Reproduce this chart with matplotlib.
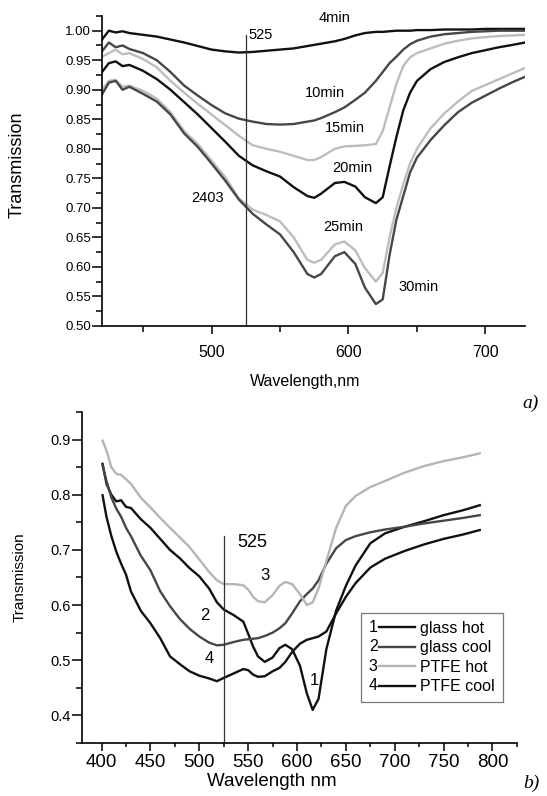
import numpy as np
import matplotlib
matplotlib.use("Agg")
import matplotlib.pyplot as plt
from matplotlib.ticker import MultipleLocator, FormatStrFormatter
from matplotlib.legend_handler import HandlerBase
from matplotlib.lines import Line2D
from matplotlib.text import Text

plt.rcParams["font.family"] = ["Liberation Sans", "DejaVu Sans"]

# ---- panel a) : transmission vs time ----
wl_top = [420, 425, 430, 435, 440, 450, 460, 470, 480, 490, 500, 510, 520, 530,
          540, 550, 560, 570, 575, 580, 590, 597, 605, 612, 620, 625, 630, 635,
          640, 645, 650, 660, 670, 680, 690, 700, 710, 720, 729]
t_4min = [0.985, 1.000, 0.997, 0.999, 0.996, 0.993, 0.990, 0.985, 0.980, 0.974,
          0.968, 0.965, 0.963, 0.964, 0.966, 0.968, 0.970, 0.974, 0.976, 0.978,
          0.982, 0.986, 0.992, 0.996, 0.998, 0.998, 0.999, 1.000, 1.000, 1.000,
          1.001, 1.001, 1.002, 1.002, 1.002, 1.003, 1.003, 1.003, 1.003]
t_10min = [0.965, 0.980, 0.972, 0.975, 0.969, 0.962, 0.950, 0.930, 0.907, 0.890,
           0.874, 0.860, 0.851, 0.846, 0.842, 0.841, 0.842, 0.846, 0.848, 0.852,
           0.862, 0.870, 0.883, 0.895, 0.915, 0.930, 0.945, 0.956, 0.968, 0.977,
           0.983, 0.990, 0.994, 0.996, 0.998, 0.999, 1.000, 1.000, 1.000]
t_15min = [0.956, 0.962, 0.968, 0.960, 0.962, 0.952, 0.938, 0.915, 0.895, 0.876,
           0.858, 0.840, 0.822, 0.806, 0.800, 0.795, 0.788, 0.781, 0.781, 0.786,
           0.800, 0.804, 0.805, 0.806, 0.808, 0.830, 0.870, 0.910, 0.940, 0.955,
           0.962, 0.970, 0.978, 0.983, 0.987, 0.989, 0.991, 0.992, 0.993]
t_20min = [0.930, 0.945, 0.948, 0.940, 0.942, 0.932, 0.918, 0.900, 0.879, 0.858,
           0.835, 0.812, 0.788, 0.772, 0.762, 0.753, 0.735, 0.720, 0.717, 0.724,
           0.742, 0.744, 0.736, 0.718, 0.708, 0.718, 0.770, 0.820, 0.865, 0.895,
           0.915, 0.935, 0.947, 0.955, 0.962, 0.967, 0.972, 0.976, 0.980]
t_25min = [0.900, 0.915, 0.917, 0.905, 0.907, 0.898, 0.885, 0.862, 0.830, 0.808,
           0.780, 0.752, 0.716, 0.697, 0.688, 0.677, 0.650, 0.612, 0.607, 0.612,
           0.638, 0.643, 0.628, 0.598, 0.575, 0.590, 0.650, 0.700, 0.740, 0.775,
           0.800, 0.835, 0.860, 0.880, 0.898, 0.908, 0.918, 0.928, 0.937]
t_30min = [0.892, 0.912, 0.915, 0.900, 0.905, 0.893, 0.880, 0.858, 0.826, 0.803,
           0.775, 0.746, 0.714, 0.690, 0.672, 0.655, 0.625, 0.588, 0.582, 0.588,
           0.618, 0.625, 0.605, 0.565, 0.537, 0.545, 0.620, 0.680, 0.720, 0.760,
           0.785, 0.815, 0.840, 0.862, 0.878, 0.890, 0.902, 0.913, 0.922]

top_series = [t_4min, t_10min, t_15min, t_20min, t_25min, t_30min]
top_colors = ["#111111", "#474747", "#bdbdbd", "#111111", "#bdbdbd", "#474747"]
top_labels = ["4min", "10min", "15min", "20min", "25min", "30min"]
top_label_pos = [(590, 1.021), (583, 0.895), (597, 0.836), (603, 0.767),
                 (596, 0.668), (651, 0.566)]

# ---- panel b) : substrates ----
wl_bot = [401, 405, 410, 415, 420, 425, 430, 440, 450, 460, 470, 480, 490, 500,
          510, 518, 525, 535, 545, 550, 555, 560, 567, 575, 582, 588, 595, 603,
          610, 616, 622, 630, 640, 650, 660, 675, 690, 710, 730, 750, 770, 787]
t_glass_hot = [0.856, 0.820, 0.800, 0.788, 0.790, 0.778, 0.776, 0.756, 0.740,
               0.720, 0.700, 0.685, 0.667, 0.652, 0.630, 0.605, 0.592, 0.582,
               0.570, 0.548, 0.525, 0.507, 0.497, 0.505, 0.522, 0.528, 0.520,
               0.490, 0.440, 0.410, 0.430, 0.520, 0.590, 0.635, 0.672, 0.712,
               0.730, 0.742, 0.752, 0.763, 0.772, 0.781]
t_glass_cool = [0.853, 0.825, 0.795, 0.775, 0.760, 0.740, 0.725, 0.690, 0.663,
                0.625, 0.598, 0.575, 0.557, 0.543, 0.532, 0.527, 0.528, 0.533,
                0.537, 0.538, 0.539, 0.540, 0.544, 0.550, 0.558, 0.567, 0.585,
                0.607, 0.620, 0.630, 0.645, 0.675, 0.703, 0.718, 0.725, 0.732,
                0.737, 0.742, 0.748, 0.753, 0.758, 0.763]
t_ptfe_hot = [0.898, 0.880, 0.850, 0.838, 0.836, 0.828, 0.820, 0.795, 0.777,
              0.758, 0.740, 0.723, 0.705, 0.683, 0.660, 0.645, 0.638, 0.638,
              0.636, 0.628, 0.615, 0.607, 0.605, 0.618, 0.635, 0.642, 0.638,
              0.620, 0.600, 0.605, 0.630, 0.680, 0.740, 0.780, 0.798, 0.814,
              0.825, 0.840, 0.852, 0.861, 0.868, 0.875]
t_ptfe_cool = [0.799, 0.760, 0.725, 0.697, 0.675, 0.655, 0.625, 0.590, 0.567,
               0.540, 0.507, 0.493, 0.480, 0.472, 0.467, 0.462, 0.468, 0.476,
               0.484, 0.482, 0.474, 0.470, 0.471, 0.480, 0.486, 0.497, 0.515,
               0.530, 0.537, 0.540, 0.543, 0.552, 0.585, 0.615, 0.640, 0.668,
               0.684, 0.698, 0.710, 0.720, 0.728, 0.736]

bot_series = [t_glass_hot, t_glass_cool, t_ptfe_hot, t_ptfe_cool]
bot_colors = ["#111111", "#474747", "#b5b5b5", "#111111"]
bot_names = ["glass hot", "glass cool", "PTFE hot", "PTFE cool"]
bot_numbers = ["1", "2", "3", "4"]
bot_number_pos = [(618, 0.464), (506, 0.582), (567, 0.654), (510, 0.504)]


class NumberedLine(HandlerBase):
    """legend handle drawn as '1----' like the original Origin plot"""

    def __init__(self, num):
        super().__init__()
        self.num = num

    def create_artists(self, legend, orig_handle, xdescent, ydescent,
                       width, height, fontsize, trans):
        x0 = -xdescent
        y = -ydescent + height / 2
        txt = Text(x0, y, self.num, fontsize=fontsize, ha="left", va="center",
                   transform=trans, family=["Liberation Sans", "DejaVu Sans"])
        ln = Line2D([x0 + 0.22 * width, x0 + width], [y, y],
                    color=orig_handle.get_color(), lw=orig_handle.get_linewidth(),
                    transform=trans)
        return [txt, ln]


fig = plt.figure(figsize=(5.47, 7.96), dpi=100)

# ---------- top panel ----------
ax1 = fig.add_axes([0.1865, 0.5905, 0.7735, 0.3895])
for t, c in zip(top_series, top_colors):
    ax1.plot(wl_top, t, color=c, lw=1.7)
for lab, (x, y) in zip(top_labels, top_label_pos):
    ax1.text(x, y, lab, fontsize=10.5, ha="center", va="center", clip_on=False)
ax1.text(497, 0.717, "2403", fontsize=10.5, ha="center", va="center")
ax1.axvline(525, ymax=0.94, color="#333333", lw=0.9)
ax1.text(527, 0.993, "525", fontsize=10.5, ha="left", va="center")

ax1.set_xlim(420, 729)
ax1.set_ylim(0.5, 1.025)
ax1.xaxis.set_major_locator(MultipleLocator(100))
ax1.xaxis.set_minor_locator(MultipleLocator(50))
ax1.yaxis.set_major_locator(MultipleLocator(0.05))
ax1.yaxis.set_minor_locator(MultipleLocator(0.025))
ax1.yaxis.set_major_formatter(FormatStrFormatter("%.2f"))
ax1.tick_params(axis="x", which="major", length=6, width=1.1, labelsize=11.5, pad=8)
ax1.tick_params(axis="x", which="minor", length=4, width=1.1)
ax1.tick_params(axis="y", which="major", length=7, width=1.1, labelsize=9.5, pad=1)
ax1.tick_params(axis="y", which="minor", length=4, width=1.1)
ax1.set_xlabel("Wavelength,nm", fontsize=11.5)
ax1.xaxis.set_label_coords(0.48, -0.155)
ax1.set_ylabel("Transmission", fontsize=13)
ax1.yaxis.set_label_coords(-0.18, 0.52)

# ---------- bottom panel ----------
ax2 = fig.add_axes([0.15, 0.0666, 0.795, 0.4158])
handles = []
for t, c, name in zip(bot_series, bot_colors, bot_names):
    ln, = ax2.plot(wl_bot, t, color=c, lw=1.7, label=name)
    handles.append(ln)
for num, (x, y) in zip(bot_numbers, bot_number_pos):
    ax2.text(x, y, num, fontsize=12, ha="center", va="center")
ax2.axvline(525, ymax=0.626, color="#333333", lw=0.9)
ax2.text(554, 0.713, "525", fontsize=13, ha="center", va="center")

ax2.set_xlim(380, 825)
ax2.set_ylim(0.35, 0.95)
ax2.xaxis.set_major_locator(MultipleLocator(50))
ax2.xaxis.set_minor_locator(MultipleLocator(25))
ax2.yaxis.set_major_locator(MultipleLocator(0.1))
ax2.yaxis.set_minor_locator(MultipleLocator(0.05))
ax2.yaxis.set_major_formatter(FormatStrFormatter("%.1f"))
ax2.tick_params(axis="x", which="major", length=6, width=1.1, labelsize=13.5, pad=2)
ax2.tick_params(axis="x", which="minor", length=3, width=1.1)
ax2.tick_params(axis="y", which="major", length=7, width=1.1, labelsize=10.5, pad=1)
ax2.tick_params(axis="y", which="minor", length=4, width=1.1)
ax2.set_xlabel("Wavelength nm", fontsize=13.5)
ax2.xaxis.set_label_coords(0.437, -0.092)
ax2.set_ylabel("Transmission", fontsize=11)
ax2.yaxis.set_label_coords(-0.128, 0.5)

leg = ax2.legend(handles=handles, loc="upper left", bbox_to_anchor=(0.641, 0.393),
                 borderaxespad=0, fontsize=11.5, frameon=True, fancybox=False,
                 handlelength=2.9, handletextpad=0.3, labelspacing=0.28,
                 borderpad=0.5,
                 handler_map={h: NumberedLine(n) for h, n in zip(handles, bot_numbers)})
leg.get_frame().set_edgecolor("#555555")
leg.get_frame().set_linewidth(0.9)

for ax in (ax1, ax2):
    ax.spines["top"].set_visible(False)
    ax.spines["right"].set_visible(False)
    ax.spines["left"].set_linewidth(1.2)
    ax.spines["bottom"].set_linewidth(1.2)

fig.text(0.955, 0.493, "a)", fontsize=14, style="italic", family="Liberation Serif",
         ha="left", va="center")
fig.text(0.956, 0.016, "b)", fontsize=14, style="italic", family="Liberation Serif",
         ha="left", va="center")

fig.savefig("out.png", dpi=100)
